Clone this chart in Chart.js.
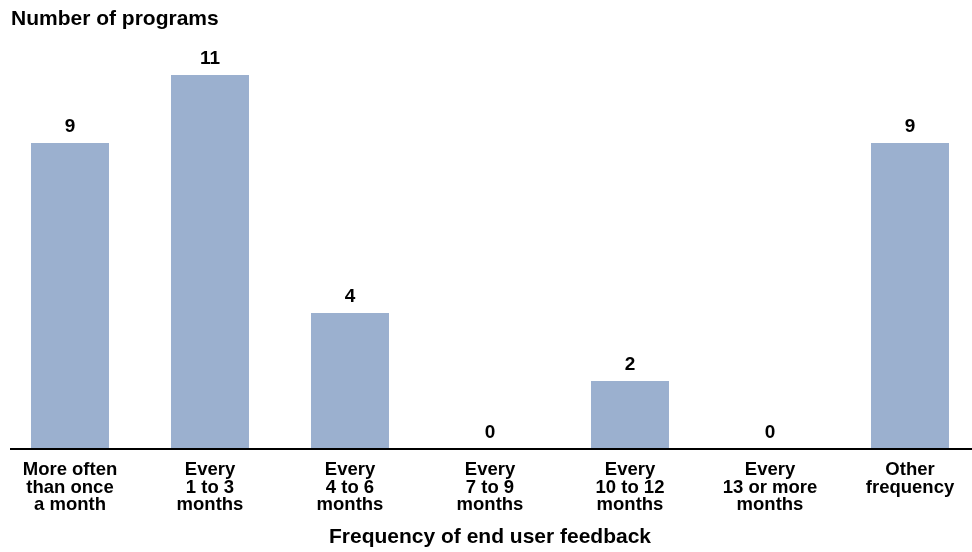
<!DOCTYPE html>
<html>
<head>
<meta charset="utf-8">
<script src="https://cdn.jsdelivr.net/npm/chart.js@4/dist/chart.umd.min.js"></script>
<style>
  html, body { margin: 0; padding: 0; background: #fff; overflow: hidden; }
  #wrap { position: relative; width: 980px; height: 552px; }
</style>
</head>
<body>
<div id="wrap"><canvas id="feedbackChart"></canvas></div>
<script>
const categories = [
    ['More often', 'than once', 'a month'],
    ['Every', '1 to 3', 'months'],
    ['Every', '4 to 6', 'months'],
    ['Every', '7 to 9', 'months'],
    ['Every', '10 to 12', 'months'],
    ['Every', '13 or more', 'months'],
    ['Other', 'frequency']
];
const programCounts = [9, 11, 4, 0, 2, 0, 9];
const yTitle = 'Number of programs';
const xTitle = 'Frequency of end user feedback';

const FONT = 'Liberation Sans, Arial, sans-serif';

// value labels above each bar
const valueLabels = {
    id: 'valueLabels',
    afterDatasetsDraw(chart) {
        const ctx = chart.ctx;
        const meta = chart.getDatasetMeta(0);
        ctx.save();
        ctx.font = 'bold 19px ' + FONT;
        ctx.fillStyle = '#000';
        ctx.textAlign = 'center';
        ctx.textBaseline = 'middle';
        meta.data.forEach((bar, i) => {
            ctx.fillText(programCounts[i], bar.x, bar.y - 16);
        });
        ctx.restore();
    }
};

// baseline and top-left axis title
const extras = {
    id: 'extras',
    afterDraw(chart) {
        const ctx = chart.ctx;
        const y0 = chart.scales.y.getPixelForValue(0);
        ctx.save();
        ctx.strokeStyle = '#000';
        ctx.lineWidth = 2;
        ctx.beginPath();
        ctx.moveTo(10, y0);
        ctx.lineTo(972, y0);
        ctx.stroke();

        ctx.font = 'bold 21px ' + FONT;
        ctx.fillStyle = '#000';
        ctx.textAlign = 'left';
        ctx.textBaseline = 'middle';
        ctx.fillText(yTitle, 11, 19);
        ctx.restore();
    }
};

new Chart(document.getElementById('feedbackChart').getContext('2d'), {
    type: 'bar',
    data: {
        labels: categories,
        datasets: [{
            data: programCounts,
            backgroundColor: '#9bb0cf',
            categoryPercentage: 1,
            barPercentage: 0.557
        }]
    },
    options: {
        responsive: true,
        maintainAspectRatio: false,
        animation: false,
        layout: { padding: { top: 41, left: 0, right: 0, bottom: 0 } },
        plugins: {
            legend: { display: false },
            tooltip: { enabled: false }
        },
        scales: {
            x: {
                grid: { display: false, drawTicks: false },
                border: { display: false },
                ticks: {
                    color: '#000',
                    padding: 12,
                    maxRotation: 0,
                    autoSkip: false,
                    font: { family: FONT, size: 18.5, weight: 'bold', lineHeight: 0.96 }
                },
                title: {
                    display: true,
                    text: xTitle,
                    color: '#000',
                    padding: { top: 0, bottom: 2 },
                    font: { family: FONT, size: 21, weight: 'bold', lineHeight: 1.2 }
                },
                afterFit(scale) { scale.height = 103; }
            },
            y: {
                display: false,
                min: 0,
                max: 12
            }
        }
    },
    plugins: [valueLabels, extras]
});
</script>
</body>
</html>
